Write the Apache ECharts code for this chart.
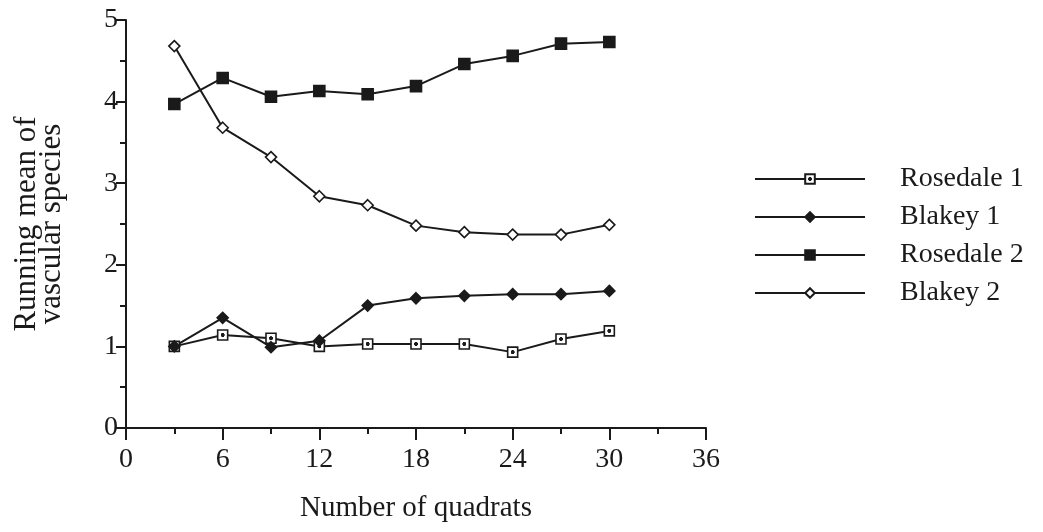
<!DOCTYPE html>
<html>
<head>
<meta charset="utf-8">
<script src="https://cdn.jsdelivr.net/npm/echarts@6/dist/echarts.min.js"></script>
<style>
  html, body { margin: 0; padding: 0; background: #fff; }
  #chart { width: 1043px; height: 532px; }
</style>
</head>
<body>
<div id="chart"></div>
<script>
// Number of quadrats sampled (x values)
const quadrats = [3, 6, 9, 12, 15, 18, 21, 24, 27, 30];

// Running mean of vascular species per site
const rosedale1 = [1.00, 1.14, 1.10, 1.00, 1.03, 1.03, 1.03, 0.93, 1.09, 1.19];
const blakey1   = [1.00, 1.35, 0.99, 1.07, 1.50, 1.59, 1.62, 1.64, 1.64, 1.68];
const rosedale2 = [3.97, 4.29, 4.06, 4.13, 4.09, 4.19, 4.46, 4.56, 4.71, 4.73];
const blakey2   = [4.68, 3.68, 3.32, 2.84, 2.73, 2.48, 2.40, 2.37, 2.37, 2.49];

const xTicks = [0, 6, 12, 18, 24, 30, 36];
const yTicks = [0, 1, 2, 3, 4, 5];

const FONT = '"Liberation Serif", "DejaVu Serif", serif';
const INK = '#1a1a1a';

const pairs = ys => quadrats.map((q, i) => [q, ys[i]]);

// open square with a small centre dot
const dottedSquareFill = {
  type: 'radial', x: 0.5, y: 0.5, r: 0.5,
  colorStops: [
    { offset: 0, color: INK },
    { offset: 0.3, color: INK },
    { offset: 0.38, color: '#fff' },
    { offset: 1, color: '#fff' }
  ]
};

function lineSeries(name, ys, symbol, size, fill) {
  return {
    name: name,
    type: 'line',
    data: pairs(ys),
    symbol: symbol,
    symbolSize: size,
    showAllSymbol: true,
    lineStyle: { color: INK, width: 2 },
    itemStyle: { color: fill, borderColor: INK, borderWidth: 1.6 },
    emphasis: { disabled: true },
    z: 3
  };
}

const chart = echarts.init(document.getElementById('chart'), null, { renderer: 'canvas' });
chart.setOption({
  backgroundColor: '#fff',
  animation: false,
  textStyle: { fontFamily: FONT, color: INK },
  grid: { left: 126, right: 337, top: 20, bottom: 104, containLabel: false },
  legend: {
    orient: 'vertical',
    left: 749,
    top: 160,
    itemWidth: 110,
    itemHeight: 12,
    itemGap: 10,
    data: ['Rosedale 1', 'Blakey 1', 'Rosedale 2', 'Blakey 2'],
    textStyle: { fontFamily: FONT, fontSize: 28, color: INK, padding: [0, 0, 0, 30] },
    selectedMode: false
  },
  xAxis: {
    type: 'value',
    min: 0, max: 36, interval: 6,
    name: 'Number of quadrats',
    nameLocation: 'middle',
    nameGap: 66,
    nameTextStyle: { fontFamily: FONT, fontSize: 29, color: INK },
    axisLine: { lineStyle: { color: INK, width: 2 } },
    axisTick: { show: true, length: 12, lineStyle: { color: INK, width: 2 } },
    minorTick: { show: true, splitNumber: 2, length: 6, lineStyle: { color: INK, width: 2 } },
    splitLine: { show: false },
    axisLabel: {
      fontFamily: FONT, fontSize: 28, color: INK, margin: 18,
      formatter: v => xTicks.includes(v) ? String(v) : ''
    }
  },
  yAxis: {
    type: 'value',
    min: 0, max: 5, interval: 1,
    name: 'Running mean of\nvascular species',
    nameLocation: 'middle',
    nameGap: 62,
    nameRotate: 90,
    nameTextStyle: { fontFamily: FONT, fontSize: 31, color: INK, lineHeight: 25 },
    axisLine: { show: true, lineStyle: { color: INK, width: 2 } },
    axisTick: { show: true, length: 10, lineStyle: { color: INK, width: 2 } },
    minorTick: { show: true, splitNumber: 2, length: 6, lineStyle: { color: INK, width: 2 } },
    splitLine: { show: false },
    axisLabel: {
      fontFamily: FONT, fontSize: 28, color: INK, margin: 8,
      formatter: v => yTicks.includes(v) ? String(v) : ''
    }
  },
  series: [
    lineSeries('Rosedale 1', rosedale1, 'rect', 10, dottedSquareFill),
    lineSeries('Blakey 1', blakey1, 'diamond', 11, INK),
    lineSeries('Rosedale 2', rosedale2, 'rect', 11, INK),
    lineSeries('Blakey 2', blakey2, 'diamond', 11, '#fff')
  ]
});
</script>
</body>
</html>
